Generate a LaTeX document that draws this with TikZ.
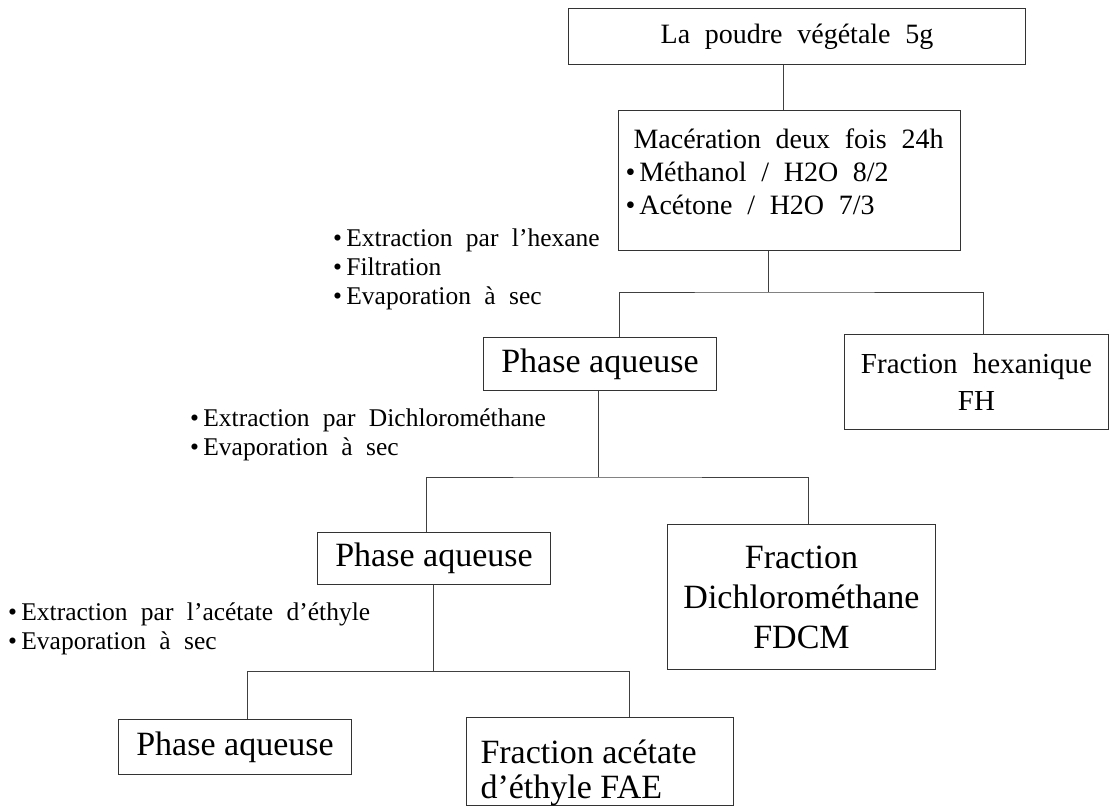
\documentclass[tikz,border=0pt]{standalone}
\usepackage{fontspec}
\setmainfont{Liberation Serif}
\newfontfamily\lblfont[WordSpace=3.2]{Liberation Serif}
\newfontfamily\widefont[WordSpace=2.1]{Liberation Serif}
\begin{document}
\begin{tikzpicture}[x=1pt,y=-1pt,
  box/.style={draw=black!80, line width=1pt, inner sep=0pt, anchor=north west,
    align=center, font=\fontsize{34}{40}\selectfont},
  conn/.style={draw=black!75, line width=1pt},
  lbl/.style={anchor=west, align=left, inner sep=0pt,
    font=\lblfont\fontsize{25.5}{29}\selectfont}]
\fill[white] (0,0) rectangle (1110,809);
\useasboundingbox (0,0) rectangle (1110,809);

% boxes
\node[box, minimum width=457pt, minimum height=56pt,
  font=\widefont\fontsize{28}{33}\selectfont] (b1) at (568,8) {La poudre végétale 5g};
\node[box, minimum width=342pt, minimum height=140pt, inner xsep=15pt,
  font=\widefont\fontsize{28}{33}\selectfont] (b2) at (618,110)
  {\parbox[c][140pt][t]{312pt}{\raggedright\vspace*{18pt}Macération deux fois 24h\\
   \hspace*{-8pt}•\hspace{4pt}Méthanol / H2O 8/2\\
   \hspace*{-8pt}•\hspace{4pt}Acétone / H2O 7/3}};
\node[box, minimum width=233pt, minimum height=53pt] (pa1) at (483,337) {Phase aqueuse};
\node[box, minimum width=264pt, minimum height=95pt,
  font=\widefont\fontsize{29}{37}\selectfont] (fh) at (844,334) {Fraction hexanique\\FH};
\node[box, minimum width=233pt, minimum height=52pt] (pa2) at (317,532) {Phase aqueuse};
\node[box, minimum width=268pt, minimum height=145pt] (fdcm) at (667,524)
  {Fraction\\Dichlorométhane\\FDCM};
\node[box, minimum width=233pt, minimum height=55pt] (pa3) at (118,719) {Phase aqueuse};
\node[box, minimum width=267pt, minimum height=88pt, inner xsep=14pt,
  font=\fontsize{34}{35}\selectfont] (fae) at (466,717)
  {\parbox[c][88pt][t]{239pt}{\raggedright\vspace*{22pt}Fraction acétate\\d’éthyle FAE}};

% labels
\node[lbl] (l1) at (333,269) {•\,Extraction par l’hexane\\•\,Filtration\\•\,Evaporation à sec};
\node[lbl] (l2) at (190,434.5) {•\,Extraction par Dichlorométhane\\•\,Evaporation à sec};
\node[lbl] (l3) at (8,628.5) {•\,Extraction par l’acétate d’éthyle\\•\,Evaporation à sec};

% connectors
\coordinate (j1) at (768,292);
\coordinate (j2) at (598,477);
\coordinate (j3) at (433,671);
\draw[conn] ([xshift=215pt]b1.south west) -- ([xshift=215pt]b1.south west |- b2.north);
\draw[conn] (b2.south -| j1) -- (j1);
\draw[conn] ([xshift=19.5pt]pa1.north) |- (j1) -| ([xshift=7pt]fh.north);
\draw[conn] (pa1.south -| j2) -- (j2);
\draw[conn] ([xshift=-7.5pt]pa2.north) |- (j2) -| ([xshift=7pt]fdcm.north);
\draw[conn] (pa2.south -| j3) -- (j3);
\draw[conn] ([xshift=12.5pt]pa3.north) |- (j3) -| ([xshift=29.5pt]fae.north);
\end{tikzpicture}
\end{document}
